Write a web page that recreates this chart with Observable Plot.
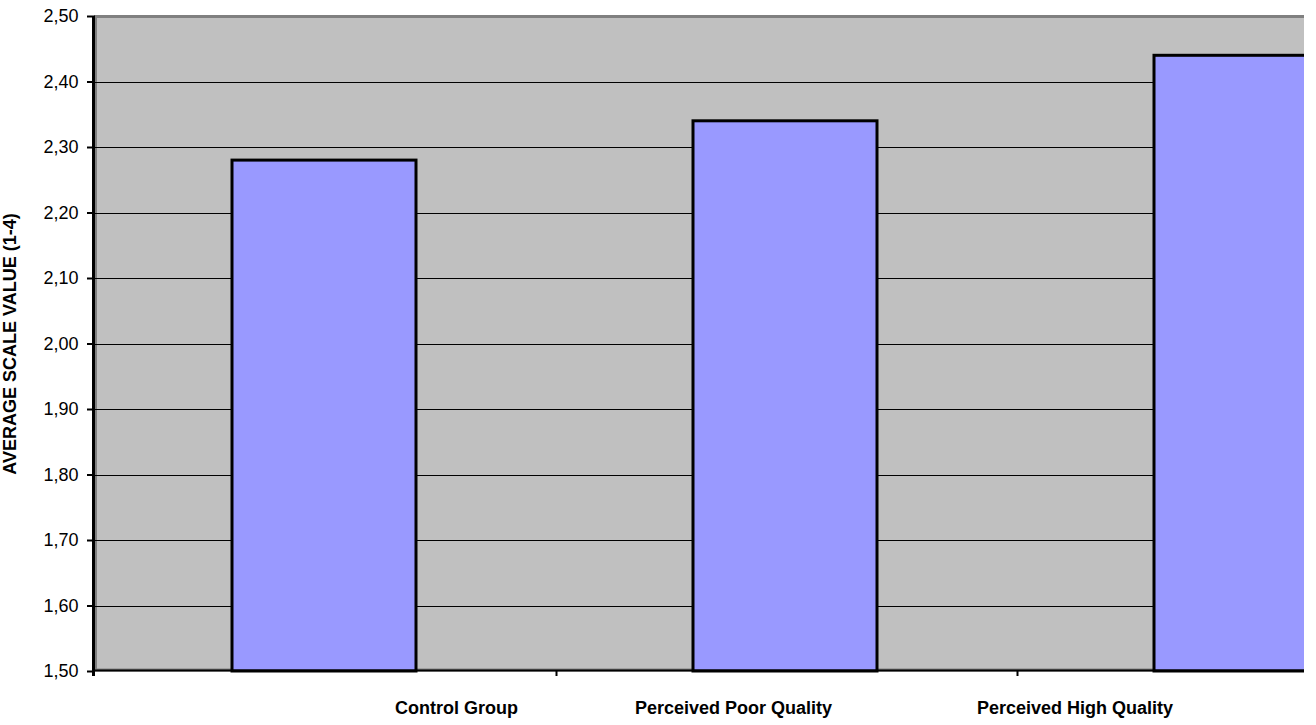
<!DOCTYPE html>
<html>
<head>
<meta charset="utf-8">
<script src="https://cdn.jsdelivr.net/npm/d3@7"></script>
<script src="https://cdn.jsdelivr.net/npm/@observablehq/plot@0.6"></script>
<style>
  html, body { margin: 0; padding: 0; background: #fff; overflow: hidden; }
  #wrap { position: relative; width: 1304px; height: 725px; overflow: hidden; }
  #wrap svg { position: absolute; left: 0; top: 0; max-width: none !important; }
  .cat {
    position: absolute; top: 699px; white-space: nowrap;
    font: bold 18px "Liberation Sans", Arial, sans-serif; color: #000; line-height: 18px;
  }
</style>
</head>
<body>
<div id="wrap"></div>
<script>
// Average scale value (1-4) per group
const categories = ["Control Group", "Perceived Poor Quality", "Perceived High Quality"];
const values = [2.28, 2.34, 2.44];
const yTicks = [1.5, 1.6, 1.7, 1.8, 1.9, 2.0, 2.1, 2.2, 2.3, 2.4, 2.5];
const gridValues = yTicks.slice(1, -1);
const yLabel = "AVERAGE SCALE VALUE (1-4)";

const data = categories.map((group, i) => ({group, value: values[i]}));

const width = 1480, height = 725;
const marginLeft = 95, marginRight = 2, marginTop = 16, marginBottom = 54;
const step = (width - marginLeft - marginRight) / categories.length;
const fmt = d => d.toFixed(2).replace(".", ",");

const chart = Plot.plot({
  width, height, marginLeft, marginRight, marginTop, marginBottom,
  style: {fontFamily: "'Liberation Sans', Arial, sans-serif", fontSize: "18px", background: "#fff", color: "#000", maxWidth: "none"},
  x: {domain: categories, padding: 0, axis: null},
  y: {domain: [1.5, 2.5], ticks: yTicks},
  marks: [
    // plot area
    Plot.frame({fill: "#C0C0C0", stroke: "#808080", strokeWidth: 3, insetBottom: 1.5}),
    // horizontal gridlines
    Plot.ruleY(gridValues, {stroke: "#000", strokeWidth: 1, shapeRendering: "crispEdges"}),
    // bars
    Plot.barY(data, {
      x: "group", y1: 1.5, y2: "value",
      fill: "#9999FF", stroke: "#000", strokeWidth: 3,
      insetLeft: 137, insetRight: 140
    }),
    // category axis line
    Plot.ruleY([1.5], {stroke: "#000", strokeWidth: 2, dy: -1}),
    // value axis line
    Plot.ruleX([categories[0]], {dx: -step / 2 - 2, stroke: "#000", strokeWidth: 3, insetBottom: -5}),
    // tick marks between categories
    Plot.ruleX(categories.slice(1), {dx: -step / 2, stroke: "#000", strokeWidth: 2, insetTop: height - marginTop - marginBottom, insetBottom: -5}),
    // value axis
    Plot.axisY({
      ticks: yTicks, tickFormat: fmt, tickSize: 8, tickPadding: 9,
      strokeWidth: 2, fontSize: 18, label: null
    }),
    // value axis title
    Plot.text([yLabel], {
      frameAnchor: "left", textAnchor: "middle", rotate: -90, dx: -85,
      fontWeight: "bold", fontSize: 18, fill: "#000"
    })
  ]
});

const wrap = document.getElementById("wrap");
wrap.appendChild(chart);

// category labels under the axis
const labelLeft = [395, 635, 977];
categories.forEach((c, i) => {
  const s = document.createElement("span");
  s.className = "cat";
  s.textContent = c;
  s.style.left = labelLeft[i] + "px";
  wrap.appendChild(s);
});
</script>
</body>
</html>
